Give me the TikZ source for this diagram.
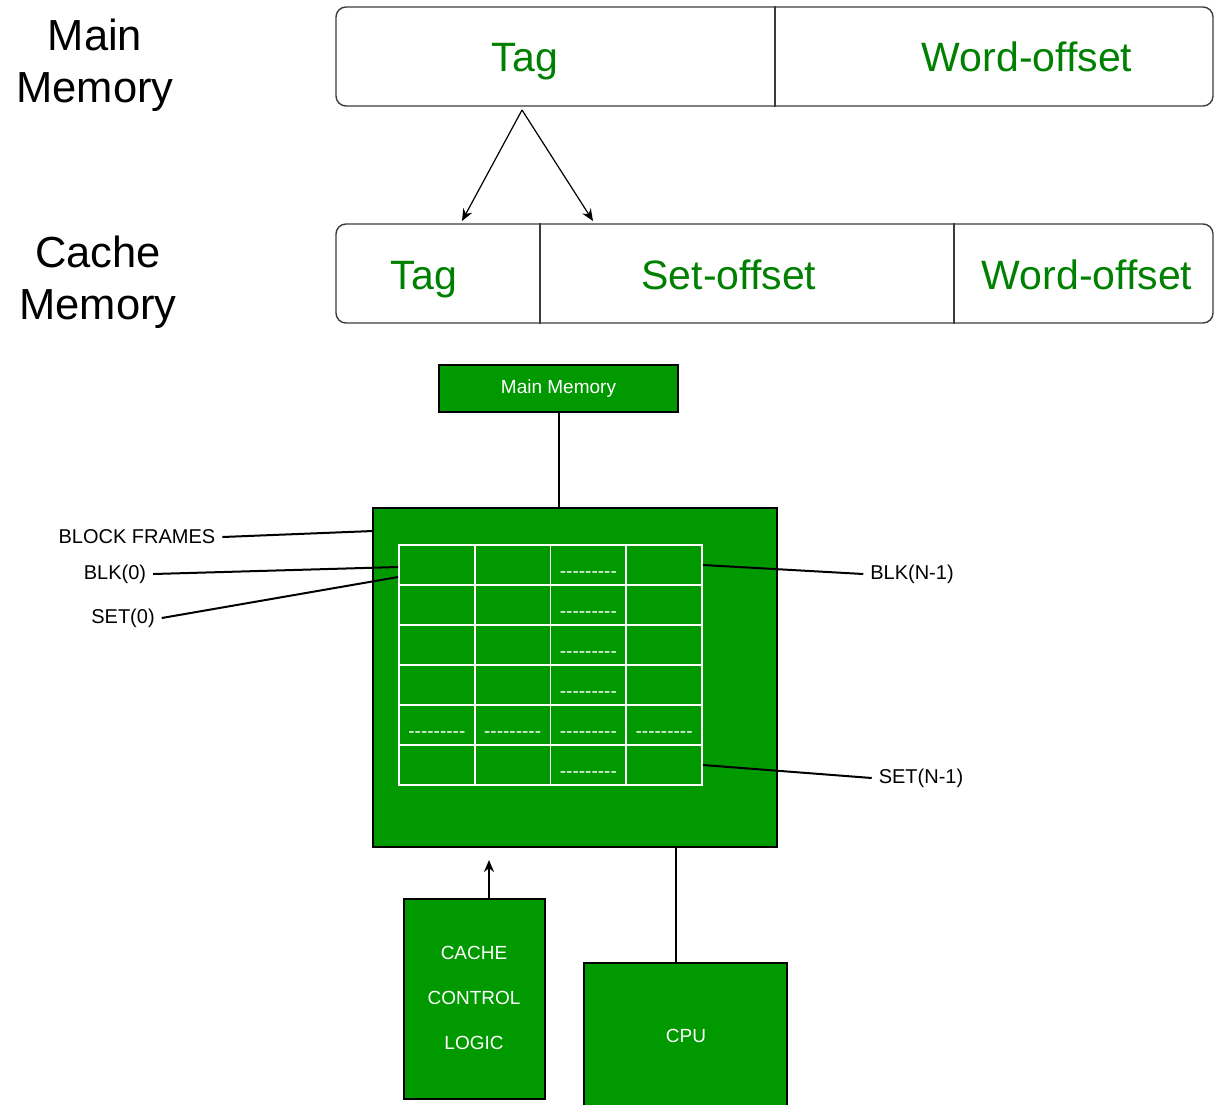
\documentclass[tikz,border=0pt]{standalone}
\usepackage{fontspec}
\setmainfont{Liberation Sans}
\usetikzlibrary{arrows.meta}
\definecolor{boxgreen}{RGB}{0,153,0}
\definecolor{textgreen}{RGB}{0,128,0}
\definecolor{edgegray}{RGB}{60,60,60}

\begin{document}
\begin{tikzpicture}[x=0.5pt,y=-0.5pt,
	field/.style={draw=edgegray, line width=0.7pt, rounded corners=5pt, inner sep=0pt},
	fieldtext/.style={text=textgreen, text height=0.72em, text depth=0pt, font=\fontsize{20.5}{24}\selectfont},
	sidetext/.style={align=center, font=\fontsize{21.75}{26}\selectfont},
	gbox/.style={draw=black, line width=1pt, fill=boxgreen, inner sep=0pt},
	btext/.style={text=white, align=center, font=\fontsize{9.5}{22.5}\selectfont},
	cell/.style={draw=white, line width=0.9pt, minimum width=37.875pt, minimum height=20pt, inner sep=0pt},
	dashes/.style={text=white, font=\fontsize{9.5}{11}\selectfont, inner sep=0pt},
	tag/.style={font=\fontsize{10}{12}\selectfont},
	link/.style={line width=1pt},
	arrow/.style={line width=0.6pt, -{Stealth[length=6pt,width=5pt]}}]
	\useasboundingbox (0,0) rectangle (1214,1104);

	% address formats
	\node[sidetext] (mmlabel) at (95,65) {Main\\Memory};
	\node[sidetext] (cmlabel) at (98,282) {Cache\\Memory};
	\node[field, minimum width=438.5pt, minimum height=49.5pt] (mmfield) at (774.5,56.5) {};
	\node[field, minimum width=438.5pt, minimum height=49.5pt] (cmfield) at (774.5,273.5) {};
	\draw[edgegray, line width=0.7pt] (mmfield.north -| 775,0) -- (mmfield.south -| 775,0);
	\draw[edgegray, line width=0.7pt] (cmfield.north -| 540,0) -- (cmfield.south -| 540,0);
	\draw[edgegray, line width=0.7pt] (cmfield.north -| 954,0) -- (cmfield.south -| 954,0);
	\node[fieldtext] (mtag) at (525,64) {Tag};
	\node[fieldtext] (mword) at (1027,64) {Word-offset};
	\node[fieldtext] (ctag) at (424,282) {Tag};
	\node[fieldtext] (cset) at (729,282) {Set-offset};
	\node[fieldtext] (cword) at (1087,282) {Word-offset};
	\coordinate (split) at (522,110);
	\coordinate (tagin) at (462,221);
	\coordinate (setin) at (593,221);
	\draw[arrow] (split) -- (tagin);
	\draw[arrow] (split) -- (setin);

	% cache organisation
	\node[gbox, minimum width=119.5pt, minimum height=23.5pt] (mem) at (558.5,388.5) {};
	\node[btext] (memtext) at (558.5,389) {Main Memory};
	\node[gbox, minimum width=202pt, minimum height=169.5pt] (cache) at (575,677.5) {};
	\foreach \r in {1,...,6}
		\foreach \c in {1,...,4}
			\node[cell] (c-\r-\c) at ({399+75.75*(\c-0.5)},{545+40*(\r-0.5)}) {};
	\foreach \r in {1,...,6}
		\node[dashes] (d-\r) at ([yshift=-5pt]c-\r-3.center) {-{}-{}-{}-{}-{}-{}-{}-{}-};
	\foreach \c in {1,2,4}
		\node[dashes] (e-\c) at ([yshift=-5pt]c-5-\c.center) {-{}-{}-{}-{}-{}-{}-{}-{}-};
	\draw[link] (mem.south) -- (mem.south |- cache.north);

	\node[tag] (frames) at (137,537) {BLOCK FRAMES};
	\node[tag] (blk0) at (115,574) {BLK(0)};
	\node[tag] (set0) at (123,618) {SET(0)};
	\node[tag] (blkn) at (912,574) {BLK(N-1)};
	\node[tag] (setn) at (921,778) {SET(N-1)};
	\coordinate (framesend) at (373,531);
	\draw[link] (frames.east) -- (framesend);
	\draw[link] (blk0.east) -- ([yshift=-1pt]c-1-1.west);
	\draw[link] (set0.east) -- ([yshift=-6pt]c-1-1.west);
	\draw[link] (c-1-4.east) -- (blkn.west);
	\draw[link] (c-6-4.east) -- (setn.west);

	\node[gbox, minimum width=70.5pt, minimum height=100pt] (ccl) at (474.5,999) {};
	\node[btext] (ccltext) at (474,998) {CACHE\\CONTROL\\LOGIC};
	\node[gbox, minimum width=101.5pt, minimum height=74pt] (cpu) at (685.5,1037) {};
	\node[btext] (cputext) at (686,1036) {CPU};
	\coordinate (cclin) at (489,860);
	\draw[arrow, line width=1pt] ([xshift=7.25pt]ccl.north) -- (cclin);
	\draw[link] (cache.south -| 676,0) -- (cpu.north -| 676,0);
\end{tikzpicture}
\end{document}
